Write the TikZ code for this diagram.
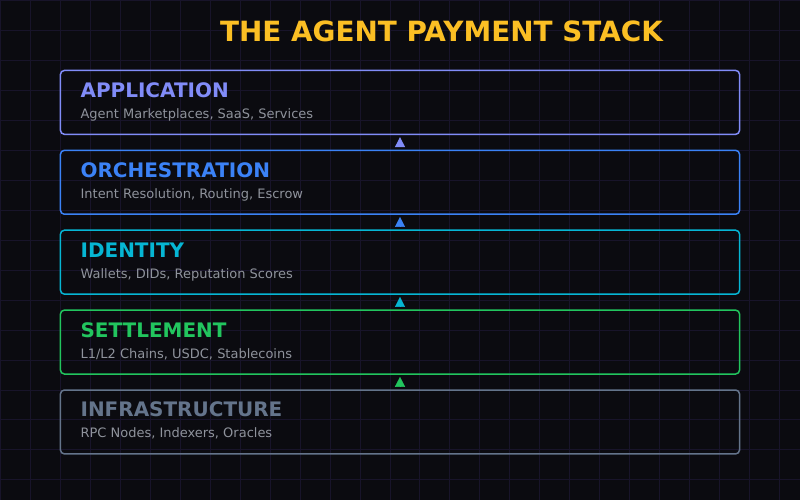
\documentclass[tikz,border=0pt]{standalone}
\usepackage{fontspec}
\setmainfont{DejaVu Sans}
\usetikzlibrary{arrows.meta}

\definecolor{bgcol}{HTML}{0B0B10}
\definecolor{gridcol}{HTML}{18142A}
\definecolor{titlecol}{HTML}{FBBF24}
\definecolor{subcol}{HTML}{8F939C}
\definecolor{appcol}{HTML}{818CF8}
\definecolor{orchcol}{HTML}{3B82F6}
\definecolor{idcol}{HTML}{06B6D4}
\definecolor{setlcol}{HTML}{22C55E}
\definecolor{infracol}{HTML}{64748B}

\tikzset{
  layer/.style={draw=#1, rectangle, rounded corners=4pt, line width=1.5pt,
    minimum width=680pt, minimum height=64pt, inner sep=0pt},
  headtext/.style={text=#1, anchor=base west, inner sep=0pt,
    font=\fontsize{20}{24}\selectfont\bfseries},
  subtext/.style={text=subcol, anchor=base west, inner sep=0pt,
    font=\fontsize{13}{16}\selectfont},
  uparrow/.style={draw=#1, fill=#1, line width=0.5pt,
    -{Triangle[length=10pt,width=10pt]}, shorten <=4pt, shorten >=2pt}
}

\begin{document}
\begin{tikzpicture}[x=1pt,y=-1pt]
\fill[bgcol] (0,0) rectangle (800,500);
\draw[step=30pt,gridcol,line width=1pt] (0,0) grid (800,500);
\useasboundingbox (0,0) rectangle (800,500);

\node[text=titlecol, anchor=base, inner sep=0pt,
  font=\fontsize{27.9}{32}\selectfont\bfseries] (title) at (441.5,41.5)
  {THE AGENT PAYMENT STACK};

% the five layers, top to bottom
\foreach \name/\col/\head/\sub [count=\i] in {
    app/appcol/APPLICATION/{Agent Marketplaces, SaaS, Services},
    orch/orchcol/ORCHESTRATION/{Intent Resolution, Routing, Escrow},
    ident/idcol/IDENTITY/{Wallets, DIDs, Reputation Scores},
    setl/setlcol/SETTLEMENT/{L1/L2 Chains, USDC, Stablecoins},
    infra/infracol/INFRASTRUCTURE/{RPC Nodes, Indexers, Oracles}} {
  \node[layer=\col] (\name) at (400,{102+80*(\i-1)}) {};
  \node[headtext=\col] (\name-head) at (80,{97+80*(\i-1)}) {\head};
  \node[subtext] (\name-sub) at (80,{118+80*(\i-1)}) {\sub};
}

% arrows between layers
\foreach \lo/\hi/\col in {orch/app/appcol, ident/orch/orchcol,
    setl/ident/idcol, infra/setl/setlcol}
  \draw[uparrow=\col] (\lo.north) -- (\hi.south);

\end{tikzpicture}
\end{document}
